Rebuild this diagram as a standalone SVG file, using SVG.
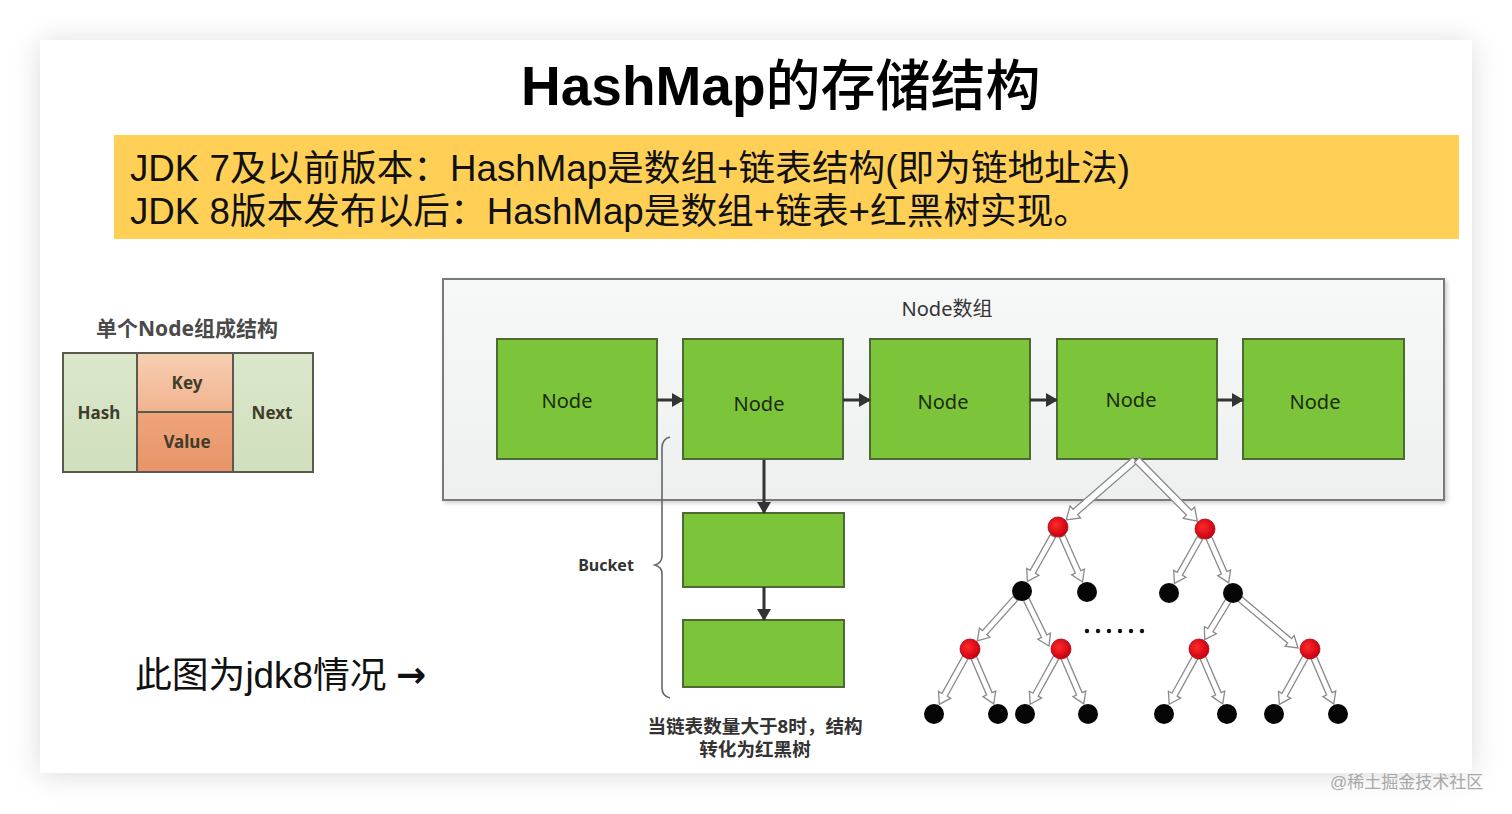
<svg xmlns="http://www.w3.org/2000/svg" width="1512" height="814" viewBox="0 0 1512 814">
<defs>
<style>
.sans{font-family:"Liberation Sans","Noto Sans CJK SC",sans-serif}
.ui{font-family:"Noto Sans","Noto Sans CJK SC",sans-serif}
.node{fill:#7cc53a;stroke:#4e6a30;stroke-width:2}
.nlabel{font-family:"Noto Sans","Noto Sans CJK SC",sans-serif;font-size:20px;fill:#1c2a10;text-anchor:middle}
.cell{stroke:#5a5a50;stroke-width:2}
.clabel{font-family:"Noto Sans","Noto Sans CJK SC",sans-serif;font-size:17px;font-weight:bold;fill:#3d3d2a;text-anchor:middle}
.darr{stroke:#333;stroke-width:3;fill:none;marker-end:url(#ah)}
.harr{fill:#fff;stroke:#8a8a8a;stroke-width:1.3;stroke-linejoin:miter}
.red{fill:url(#redg);stroke:#b00010;stroke-width:0.8}
.blk{fill:#050505}
</style>
<filter id="shadow" x="-5%" y="-5%" width="110%" height="110%">
<feDropShadow dx="0" dy="2" stdDeviation="14" flood-color="#000" flood-opacity="0.14"/>
</filter>
<filter id="soft" x="-5%" y="-5%" width="110%" height="110%">
<feDropShadow dx="2" dy="2" stdDeviation="2" flood-color="#000" flood-opacity="0.2"/>
</filter>
<linearGradient id="boxg" x1="0" y1="0" x2="0" y2="1">
<stop offset="0" stop-color="#f7f8f8"/>
<stop offset="1" stop-color="#eef0f0"/>
</linearGradient>
<linearGradient id="keyg" x1="0" y1="0" x2="0" y2="1">
<stop offset="0" stop-color="#f7cfb3"/>
<stop offset="1" stop-color="#f1b38e"/>
</linearGradient>
<linearGradient id="valg" x1="0" y1="0" x2="0" y2="1">
<stop offset="0" stop-color="#efa47a"/>
<stop offset="1" stop-color="#e99469"/>
</linearGradient>
<linearGradient id="greeng" x1="0" y1="0" x2="0" y2="1">
<stop offset="0" stop-color="#dbe7cb"/>
<stop offset="1" stop-color="#d0dfbd"/>
</linearGradient>
<radialGradient id="redg" cx="0.4" cy="0.4" r="0.6">
<stop offset="0" stop-color="#ff2a2a"/>
<stop offset="1" stop-color="#c80010"/>
</radialGradient>
<marker id="ah" markerUnits="userSpaceOnUse" markerWidth="12" markerHeight="14" viewBox="0 0 12 14" refX="11" refY="7" orient="auto">
<path d="M0,0 L12,7 L0,14 Z" fill="#333"/>
</marker>
</defs>

<rect width="1512" height="814" fill="#ffffff"/>
<rect x="40" y="40" width="1432" height="733" fill="#ffffff" filter="url(#shadow)"/>

<g id="title">
<text x="521" y="105" class="sans" font-size="55" fill="#000"><tspan font-weight="bold">HashMap</tspan><tspan font-weight="500">的存储结构</tspan></text>
</g>

<g id="banner">
<rect x="114" y="135" width="1345" height="104" fill="#ffd055"/>
<text x="130" y="181" class="sans" font-size="36.7" fill="#111">JDK 7及以前版本：HashMap是数组+链表结构(即为链地址法)</text>
<text x="130" y="224" class="sans" font-size="36.7" fill="#111">JDK 8版本发布以后：HashMap是数组+链表+红黑树实现。</text>
</g>

<g id="single-node">
<text x="187" y="336" class="ui" font-size="21" font-weight="bold" fill="#4a4a4a" text-anchor="middle">单个Node组成结构</text>
<rect x="63" y="353" width="74" height="119" fill="url(#greeng)" class="cell"/>
<rect x="137" y="353" width="96" height="59" fill="url(#keyg)" class="cell"/>
<rect x="137" y="412" width="96" height="60" fill="url(#valg)" class="cell"/>
<rect x="233" y="353" width="80" height="119" fill="url(#greeng)" class="cell"/>
<text x="99" y="419" class="clabel">Hash</text>
<text x="187" y="389" class="clabel">Key</text>
<text x="187" y="448" class="clabel">Value</text>
<text x="272" y="419" class="clabel">Next</text>
</g>

<g id="node-array">
<rect x="443" y="279" width="1001" height="221" fill="url(#boxg)" stroke="#7a7a7a" stroke-width="2" filter="url(#soft)"/>
<text x="947" y="316" class="ui" font-size="20" fill="#333" text-anchor="middle">Node数组</text>
</g>

<g id="node1"><rect x="497" y="339" width="160" height="120" class="node"/><text x="567" y="408" class="nlabel">Node</text></g>
<g id="node2"><rect x="683" y="339" width="160" height="120" class="node"/><text x="759" y="411" class="nlabel">Node</text></g>
<g id="node3"><rect x="870" y="339" width="160" height="120" class="node"/><text x="943" y="409" class="nlabel">Node</text></g>
<g id="node4"><rect x="1057" y="339" width="160" height="120" class="node"/><text x="1131" y="407" class="nlabel">Node</text></g>
<g id="node5"><rect x="1243" y="339" width="161" height="120" class="node"/><text x="1315" y="409" class="nlabel">Node</text></g>

<g id="bucket1"><rect x="683" y="513" width="161" height="74" class="node"/></g>
<g id="bucket2"><rect x="683" y="620" width="161" height="67" class="node"/></g>

<g id="bucket-label">
<path d="M670,437 Q662,439 662,448 L662,556 Q662,563 655,565 Q662,567 662,574 L662,688 Q662,696 670,698" fill="none" stroke="#666" stroke-width="1.6"/>
<text x="606" y="571" class="ui" font-size="16" font-weight="bold" fill="#333" text-anchor="middle">Bucket</text>
<text x="755" y="733" class="ui" font-size="18.6" font-weight="bold" fill="#333" text-anchor="middle">当链表数量大于8时，结构</text>
<text x="755" y="756" class="ui" font-size="18.6" font-weight="bold" fill="#333" text-anchor="middle">转化为红黑树</text>
</g>

<g id="note">
<text x="135" y="688" class="sans" font-size="36.8" fill="#111">此图为jdk8情况</text>
<text x="396" y="687" font-family="DejaVu Sans, sans-serif" font-size="36" font-weight="bold" fill="#111">→</text>
</g>

<g id="connectors">
<line x1="657" y1="400" x2="683" y2="400" class="darr"/>
<line x1="843" y1="400" x2="870" y2="400" class="darr"/>
<line x1="1030" y1="400" x2="1057" y2="400" class="darr"/>
<line x1="1217" y1="400" x2="1243" y2="400" class="darr"/>
<line x1="764" y1="460" x2="764" y2="513" class="darr"/>
<line x1="764" y1="587" x2="764" y2="620" class="darr"/>

<path class="harr" transform="translate(1066.3,519.8) rotate(138.96)" d="M0,0 L-12,-8 L-12,-3.5 L-91,-3.5 L-91,3.5 L-12,3.5 L-12,8 Z"/>
<path class="harr" transform="translate(1197.3,521.2) rotate(45.43)" d="M0,0 L-12,-8 L-12,-3.5 L-86,-3.5 L-86,3.5 L-12,3.5 L-12,8 Z"/>

<path class="harr" transform="translate(1027.4,581.4) rotate(119.35)" d="M0,0 L-11,-7 L-11,-3 L-52,-3 L-52,3 L-11,3 L-11,7 Z"/>
<path class="harr" transform="translate(1082.5,582) rotate(66.04)" d="M0,0 L-11,-7 L-11,-3 L-50,-3 L-50,3 L-11,3 L-11,7 Z"/>
<path class="harr" transform="translate(1174.4,583.4) rotate(119.35)" d="M0,0 L-11,-7 L-11,-3 L-52,-3 L-52,3 L-11,3 L-11,7 Z"/>
<path class="harr" transform="translate(1228.6,582.9) rotate(66.33)" d="M0,0 L-11,-7 L-11,-3 L-49,-3 L-49,3 L-11,3 L-11,7 Z"/>

<path class="harr" transform="translate(977.3,640.8) rotate(131.94)" d="M0,0 L-11,-7 L-11,-3 L-57,-3 L-57,3 L-11,3 L-11,7 Z"/>
<path class="harr" transform="translate(1049,646) rotate(63.93)" d="M0,0 L-11,-7 L-11,-3 L-52,-3 L-52,3 L-11,3 L-11,7 Z"/>
<path class="harr" transform="translate(1204.7,639.6) rotate(121.2)" d="M0,0 L-11,-7 L-11,-3 L-46,-3 L-46,3 L-11,3 L-11,7 Z"/>
<path class="harr" transform="translate(1298,648) rotate(40.2)" d="M0,0 L-11,-7 L-11,-3 L-76,-3 L-76,3 L-11,3 L-11,7 Z"/>

<path class="harr" transform="translate(939.3,704.4) rotate(118.97)" d="M0,0 L-11,-7 L-11,-3 L-55,-3 L-55,3 L-11,3 L-11,7 Z"/>
<path class="harr" transform="translate(993.7,703.9) rotate(66.7)" d="M0,0 L-11,-7 L-11,-3 L-52,-3 L-52,3 L-11,3 L-11,7 Z"/>
<path class="harr" transform="translate(1030.2,704.3) rotate(118.97)" d="M0,0 L-11,-7 L-11,-3 L-55,-3 L-55,3 L-11,3 L-11,7 Z"/>
<path class="harr" transform="translate(1083.7,703.9) rotate(66.7)" d="M0,0 L-11,-7 L-11,-3 L-52,-3 L-52,3 L-11,3 L-11,7 Z"/>
<path class="harr" transform="translate(1169.2,704.3) rotate(118.97)" d="M0,0 L-11,-7 L-11,-3 L-55,-3 L-55,3 L-11,3 L-11,7 Z"/>
<path class="harr" transform="translate(1222.7,703.9) rotate(66.7)" d="M0,0 L-11,-7 L-11,-3 L-52,-3 L-52,3 L-11,3 L-11,7 Z"/>
<path class="harr" transform="translate(1279.3,704.4) rotate(118.97)" d="M0,0 L-11,-7 L-11,-3 L-55,-3 L-55,3 L-11,3 L-11,7 Z"/>
<path class="harr" transform="translate(1333.7,703.9) rotate(66.7)" d="M0,0 L-11,-7 L-11,-3 L-52,-3 L-52,3 L-11,3 L-11,7 Z"/>
</g>

<g id="tree-nodes">
<circle cx="1058" cy="527" r="10" class="red"/>
<circle cx="1205" cy="529" r="10" class="red"/>
<circle cx="1022" cy="591" r="10" class="blk"/>
<circle cx="1087" cy="592" r="10" class="blk"/>
<circle cx="1169" cy="593" r="10" class="blk"/>
<circle cx="1233" cy="593" r="10" class="blk"/>
<circle cx="970" cy="649" r="10" class="red"/>
<circle cx="1061" cy="649" r="10" class="red"/>
<circle cx="1199" cy="649" r="10" class="red"/>
<circle cx="1310" cy="649" r="10" class="red"/>
<circle cx="934" cy="714" r="10" class="blk"/>
<circle cx="998" cy="714" r="10" class="blk"/>
<circle cx="1025" cy="714" r="10" class="blk"/>
<circle cx="1088" cy="714" r="10" class="blk"/>
<circle cx="1164" cy="714" r="10" class="blk"/>
<circle cx="1227" cy="714" r="10" class="blk"/>
<circle cx="1274" cy="714" r="10" class="blk"/>
<circle cx="1338" cy="714" r="10" class="blk"/>
</g>

<g id="ellipsis" fill="#111">
<circle cx="1087" cy="631" r="2.2"/>
<circle cx="1098" cy="631" r="2.2"/>
<circle cx="1109" cy="631" r="2.2"/>
<circle cx="1120" cy="631" r="2.2"/>
<circle cx="1131" cy="631" r="2.2"/>
<circle cx="1142" cy="631" r="2.2"/>
</g>

<g id="watermark">
<text x="1330" y="788" class="sans" font-size="17" fill="#a8a8a8">@稀土掘金技术社区</text>
</g>
</svg>
